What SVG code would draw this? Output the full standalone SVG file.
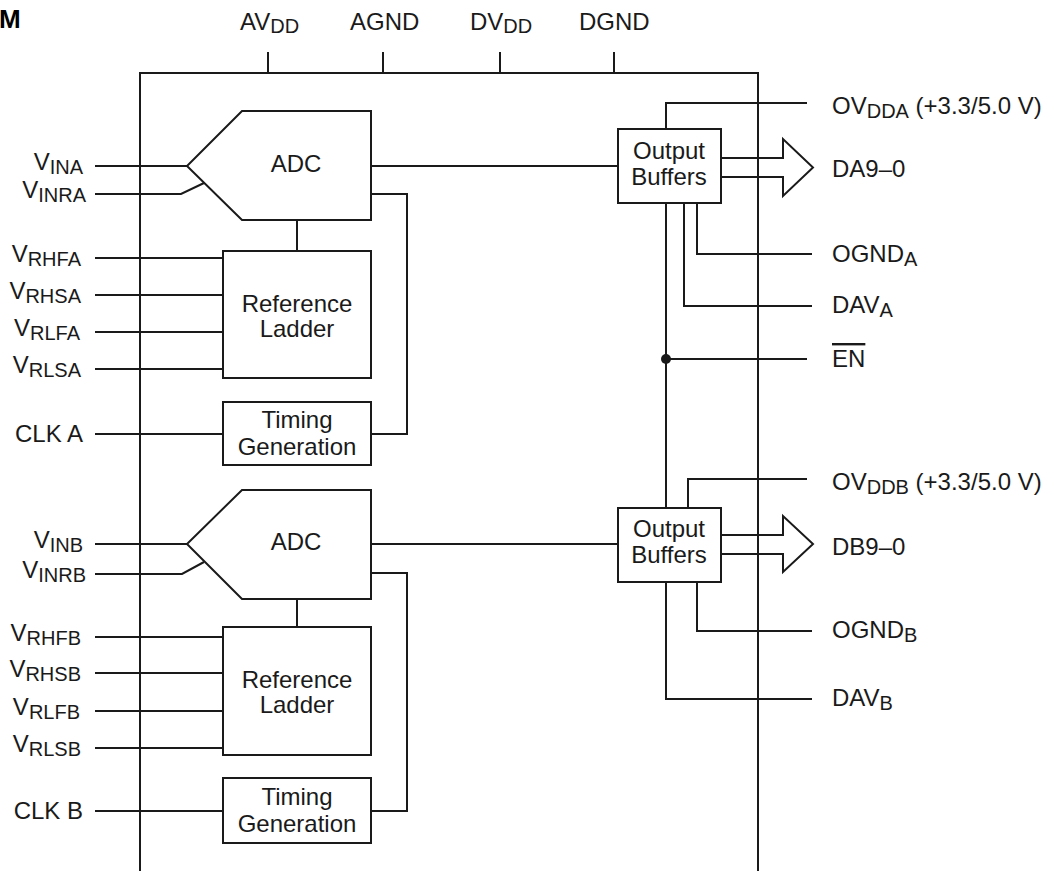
<svg xmlns="http://www.w3.org/2000/svg" width="1047" height="871" viewBox="0 0 1047 871">
<style>
  .ln { fill: none; stroke: #1a1a1a; stroke-width: 2; stroke-linejoin: miter; }
  .box { fill: #ffffff; stroke: #1a1a1a; stroke-width: 2; }
  text { font-family: "Liberation Sans", Arial, sans-serif; font-size: 24px; fill: #1a1a1a; }
  .sub { font-size: 20px; }
  .c { text-anchor: middle; }
  .e { text-anchor: end; }
  .title { font-weight: bold; font-size: 26px; fill: #000000; }
</style>
<rect width="1047" height="871" fill="#ffffff"/>

<text class="title" x="-1" y="28">M</text>

<g id="connectors">
  <!-- outer device outline -->
  <path class="ln" d="M140,871 V73 H758 V871"/>
  <!-- power pins -->
  <path class="ln" d="M268,52 V73 M383,52 V73 M500,52 V73 M614,52 V73"/>
  <!-- channel A inputs -->
  <path class="ln" d="M95,166 H187"/>
  <path class="ln" d="M95,194 H181 L204,183"/>
  <path class="ln" d="M95,258 H223 M95,295 H223 M95,332 H223 M95,369 H223"/>
  <path class="ln" d="M95,434 H223"/>
  <path class="ln" d="M297,220 V251"/>
  <path class="ln" d="M371,194 H407 V434 H371"/>
  <path class="ln" d="M371,166 H618"/>
  <!-- channel B inputs -->
  <path class="ln" d="M95,544 H187"/>
  <path class="ln" d="M95,574 H182 L204,562"/>
  <path class="ln" d="M95,637 H223 M95,673 H223 M95,711 H223 M95,748 H223"/>
  <path class="ln" d="M95,811 H223"/>
  <path class="ln" d="M297,599 V627"/>
  <path class="ln" d="M371,573 H407 V811 H371"/>
  <path class="ln" d="M371,544 H618"/>
  <!-- output buffers A -->
  <path class="ln" d="M666,129 V103 H807"/>
  <path class="ln" d="M721,158 H783 V139 L813,167.5 L783,196 V177 H721"/>
  <path class="ln" d="M697,203 V254 H812"/>
  <path class="ln" d="M684,203 V306 H812"/>
  <path class="ln" d="M666,203 V508"/>
  <path class="ln" d="M666,359 H807"/>
  <circle cx="666" cy="359" r="5" fill="#1a1a1a"/>
  <!-- output buffers B -->
  <path class="ln" d="M688,508 V479 H807"/>
  <path class="ln" d="M721,535 H783 V516 L813,544 L783,572 V554 H721"/>
  <path class="ln" d="M697,582 V631 H812"/>
  <path class="ln" d="M666,582 V699 H812"/>
</g>

<g id="pins-top">
  <text x="240" y="30">AV<tspan class="sub" dy="3">DD</tspan></text>
  <text x="350" y="30">AGND</text>
  <text x="470" y="30">DV<tspan class="sub" dy="3">DD</tspan></text>
  <text x="579" y="30">DGND</text>
</g>

<g id="pins-left-a">
  <text class="e" x="83" y="170">V<tspan class="sub" dy="4">INA</tspan></text>
  <text class="e" x="86" y="198">V<tspan class="sub" dy="4">INRA</tspan></text>
  <text class="e" x="81" y="262">V<tspan class="sub" dy="4">RHFA</tspan></text>
  <text class="e" x="81" y="299">V<tspan class="sub" dy="4">RHSA</tspan></text>
  <text class="e" x="80" y="336">V<tspan class="sub" dy="4">RLFA</tspan></text>
  <text class="e" x="81" y="373">V<tspan class="sub" dy="4">RLSA</tspan></text>
  <text class="e" x="83" y="442">CLK A</text>
</g>

<g id="pins-left-b">
  <text class="e" x="83" y="548">V<tspan class="sub" dy="4">INB</tspan></text>
  <text class="e" x="86" y="578">V<tspan class="sub" dy="4">INRB</tspan></text>
  <text class="e" x="81" y="641">V<tspan class="sub" dy="4">RHFB</tspan></text>
  <text class="e" x="81" y="677">V<tspan class="sub" dy="4">RHSB</tspan></text>
  <text class="e" x="80" y="715">V<tspan class="sub" dy="4">RLFB</tspan></text>
  <text class="e" x="81" y="752">V<tspan class="sub" dy="4">RLSB</tspan></text>
  <text class="e" x="83" y="819">CLK B</text>
</g>

<g id="pins-right">
  <text x="832" y="114">OV<tspan class="sub" dy="4">DDA</tspan><tspan dy="-4"> (+3.3/5.0 V)</tspan></text>
  <text x="832" y="177">DA9–0</text>
  <text x="832" y="262">OGND<tspan class="sub" dy="4">A</tspan></text>
  <text x="832" y="313">DAV<tspan class="sub" dy="4">A</tspan></text>
  <text x="832" y="367" text-decoration="overline">EN</text>
  <text x="832" y="490">OV<tspan class="sub" dy="4">DDB</tspan><tspan dy="-4"> (+3.3/5.0 V)</tspan></text>
  <text x="832" y="555">DB9–0</text>
  <text x="832" y="638">OGND<tspan class="sub" dy="4">B</tspan></text>
  <text x="832" y="706">DAV<tspan class="sub" dy="4">B</tspan></text>
</g>

<g id="adc-a">
  <polygon class="box" points="242,111 371,111 371,220 242,220 187,166"/>
  <text class="c" x="296" y="172">ADC</text>
</g>
<g id="ref-ladder-a">
  <rect class="box" x="223" y="251" width="148" height="127"/>
  <text class="c" x="297" y="312">Reference</text>
  <text class="c" x="297" y="337">Ladder</text>
</g>
<g id="timing-a">
  <rect class="box" x="223" y="402" width="148" height="63"/>
  <text class="c" x="297" y="428">Timing</text>
  <text class="c" x="297" y="455">Generation</text>
</g>
<g id="outbuf-a">
  <rect class="box" x="618" y="129" width="103" height="74"/>
  <text class="c" x="669" y="159">Output</text>
  <text class="c" x="669" y="185">Buffers</text>
</g>

<g id="adc-b">
  <polygon class="box" points="242,490 371,490 371,599 242,599 187,544"/>
  <text class="c" x="296" y="550">ADC</text>
</g>
<g id="ref-ladder-b">
  <rect class="box" x="223" y="627" width="148" height="128"/>
  <text class="c" x="297" y="688">Reference</text>
  <text class="c" x="297" y="713">Ladder</text>
</g>
<g id="timing-b">
  <rect class="box" x="223" y="778" width="148" height="65"/>
  <text class="c" x="297" y="805">Timing</text>
  <text class="c" x="297" y="832">Generation</text>
</g>
<g id="outbuf-b">
  <rect class="box" x="618" y="508" width="103" height="74"/>
  <text class="c" x="669" y="537">Output</text>
  <text class="c" x="669" y="563">Buffers</text>
</g>
</svg>
